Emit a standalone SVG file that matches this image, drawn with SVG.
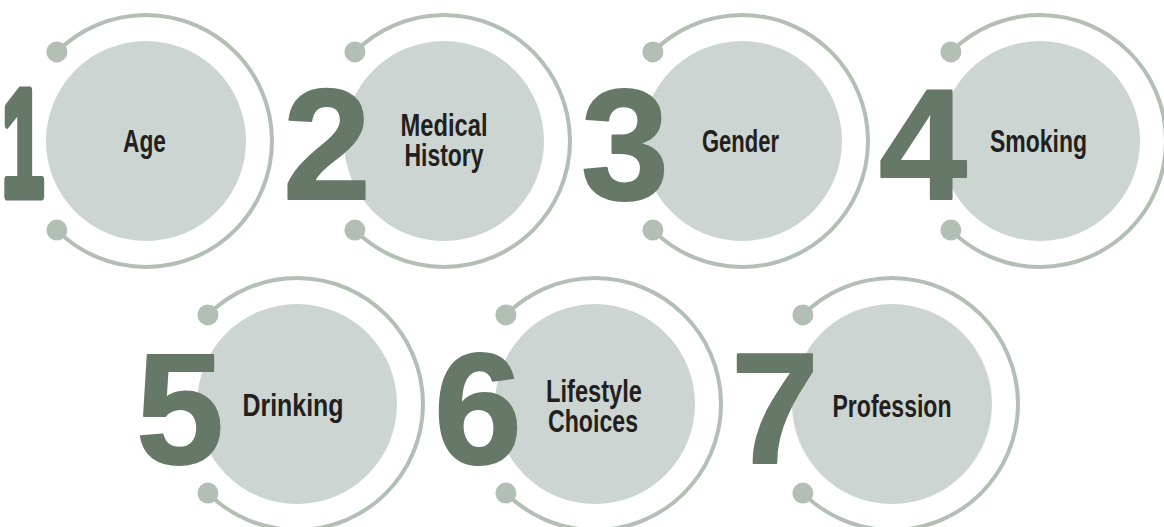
<svg xmlns="http://www.w3.org/2000/svg" width="1164" height="527" viewBox="0 0 1164 527">
  <style>
    .ring { fill: none; stroke: #b3beb4; stroke-width: 4; }
    .dot { fill: #b3beb4; }
    .disc { fill: #ccd5d1; }
    .num { fill: #667868; stroke: #667868; stroke-width: 2; stroke-linejoin: round; font-family: "Liberation Sans", Arial, sans-serif; font-weight: 700; font-size: 158px; text-anchor: middle; }
    .num-narrow { font-size: 152px; text-anchor: end; stroke-width: 7; }
    .label { fill: #231f20; font-family: "Liberation Sans", Arial, sans-serif; font-weight: 700; font-size: 32px; text-anchor: middle; }
  </style>
  <defs>
    <!-- open ring: 270° arc from upper-left to lower-left, with a dot at each end -->
    <g id="frame">
      <path class="ring" d="M -89.1 -89.1 A 126 126 0 1 1 -89.1 89.1"/>
      <circle class="dot" cx="-89.1" cy="-89.1" r="10.5"/>
      <circle class="dot" cx="-89.1" cy="89.1" r="10.5"/>
      <circle class="disc" cx="0" cy="0" r="100"/>
    </g>
  </defs>

  <rect width="1164" height="527" fill="#ffffff"/>

  <g id="connectors"></g>

  <g id="node-1" transform="translate(146,141)">
    <use href="#frame"/>
    <!-- the "1" is squeezed horizontally; its stroke keeps an even weight -->
    <text class="num num-narrow" transform="translate(-101,54.5) scale(0.5,1)" x="-2" y="0" vector-effect="non-scaling-stroke">1</text>
    <text class="label" x="-1.5" y="11" textLength="43" lengthAdjust="spacingAndGlyphs">Age</text>
  </g>

  <g id="node-2" transform="translate(444,141)">
    <use href="#frame"/>
    <text class="num" x="-117" y="58">2</text>
    <text class="label" x="0" y="-5" textLength="87" lengthAdjust="spacingAndGlyphs">Medical</text>
    <text class="label" x="0" y="25" textLength="79" lengthAdjust="spacingAndGlyphs">History</text>
  </g>

  <g id="node-3" transform="translate(742,141)">
    <use href="#frame"/>
    <text class="num" x="-117" y="58">3</text>
    <text class="label" x="-1.5" y="11" textLength="77" lengthAdjust="spacingAndGlyphs">Gender</text>
  </g>

  <g id="node-4" transform="translate(1040,141)">
    <use href="#frame"/>
    <text class="num" x="-117" y="58">4</text>
    <text class="label" x="-1.5" y="11" textLength="97" lengthAdjust="spacingAndGlyphs">Smoking</text>
  </g>

  <g id="node-5" transform="translate(297,404)">
    <use href="#frame"/>
    <text class="num" x="-117" y="59">5</text>
    <text class="label" x="-4" y="12" textLength="101" lengthAdjust="spacingAndGlyphs">Drinking</text>
  </g>

  <g id="node-6" transform="translate(595,404)">
    <use href="#frame"/>
    <text class="num" x="-117" y="59">6</text>
    <text class="label" x="-1" y="-2" textLength="96" lengthAdjust="spacingAndGlyphs">Lifestyle</text>
    <text class="label" x="-2" y="28" textLength="90" lengthAdjust="spacingAndGlyphs">Choices</text>
  </g>

  <g id="node-7" transform="translate(892,404)">
    <use href="#frame"/>
    <text class="num" x="-117" y="59">7</text>
    <text class="label" x="0" y="13" textLength="119" lengthAdjust="spacingAndGlyphs">Profession</text>
  </g>
</svg>
